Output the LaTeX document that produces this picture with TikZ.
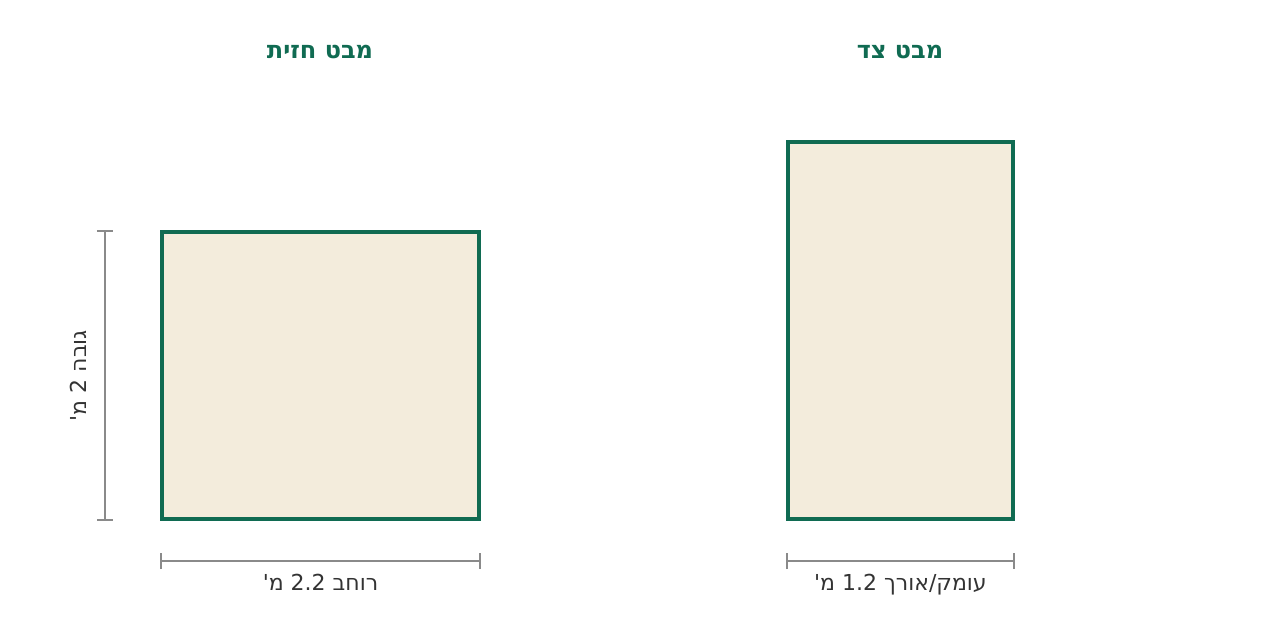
\documentclass[tikz,border=0pt]{standalone}
\usepackage{fontspec}
\setmainfont{DejaVu Sans}
\newfontfamily\hebrewfont[Script=Hebrew]{DejaVu Sans}
\TeXXeTstate=1
\usetikzlibrary{
  arrows.meta,
  calc,
  positioning
}
\definecolor{viewgreen}{HTML}{106B52}
\definecolor{viewfill}{HTML}{F3ECDC}
\definecolor{dimgray}{HTML}{8A8A8A}
\definecolor{textgray}{HTML}{333333}
\tikzset{
  % For the two views of the box.
  view/.style={
    draw=viewgreen,
    fill=viewfill,
    line width=2.5pt,
    inner sep=0pt},
%
  % For view titles.
  title/.style={
    font=\hebrewfont\bfseries\fontsize{18pt}{21pt}\selectfont,
    text=viewgreen},
%
  % For measurement lines with end bars.
  span/.style={
    draw=dimgray,
    line width=1.5pt,
    {Bar[width=12pt,line width=1.5pt]}-{Bar[width=12pt,line width=1.5pt]}},
%
  % For measurement labels.
  description/.style={
    font=\hebrewfont\fontsize{16.5pt}{20pt}\selectfont,
    text=textgray}
}

\begin{document}
\begin{tikzpicture}[x=0.75pt,y=0.75pt]
  \useasboundingbox (0,0) rectangle (1280,640);

  \node[view, minimum width=237.75pt, minimum height=215.25pt]
    (front) at (320.5,264.5) {};
  \node[view, minimum width=168.75pt, minimum height=282.75pt]
    (side) at (900.5,309.5) {};

  \node[title] (front title) at (320,588) {\beginR מבט חזית\endR};
  \node[title] (side title) at (900,588) {\beginR מבט צד\endR};

  % width of the front view
  \coordinate (front left) at ($(front.south west) + (0,-40.5)$);
  \coordinate (front right) at ($(front.south east) + (0,-40.5)$);
  \draw[span] (front left) -- (front right);
  \node[description] (front width) at ($(front left)!0.5!(front right) + (0,-21)$)
    {\beginR רוחב \beginL2.2\endL{} מ'\endR};

  % depth of the side view
  \coordinate (side left) at ($(side.south west) + (0,-40.5)$);
  \coordinate (side right) at ($(side.south east) + (0,-40.5)$);
  \draw[span] (side left) -- (side right);
  \node[description] (side depth) at ($(side left)!0.5!(side right) + (0,-23)$)
    {\beginR עומק/אורך \beginL1.2\endL{} מ'\endR};

  % height of the front view
  \coordinate (front top) at ($(front.north west) + (-55.5,0)$);
  \coordinate (front bottom) at ($(front.south west) + (-55.5,0)$);
  \draw[span] (front top) -- (front bottom);
  \node[description, rotate=90] (front height) at ($(front top)!0.5!(front bottom) + (-26,0)$)
    {\beginR גובה \beginL2\endL{} מ'\endR};
\end{tikzpicture}
\end{document}
